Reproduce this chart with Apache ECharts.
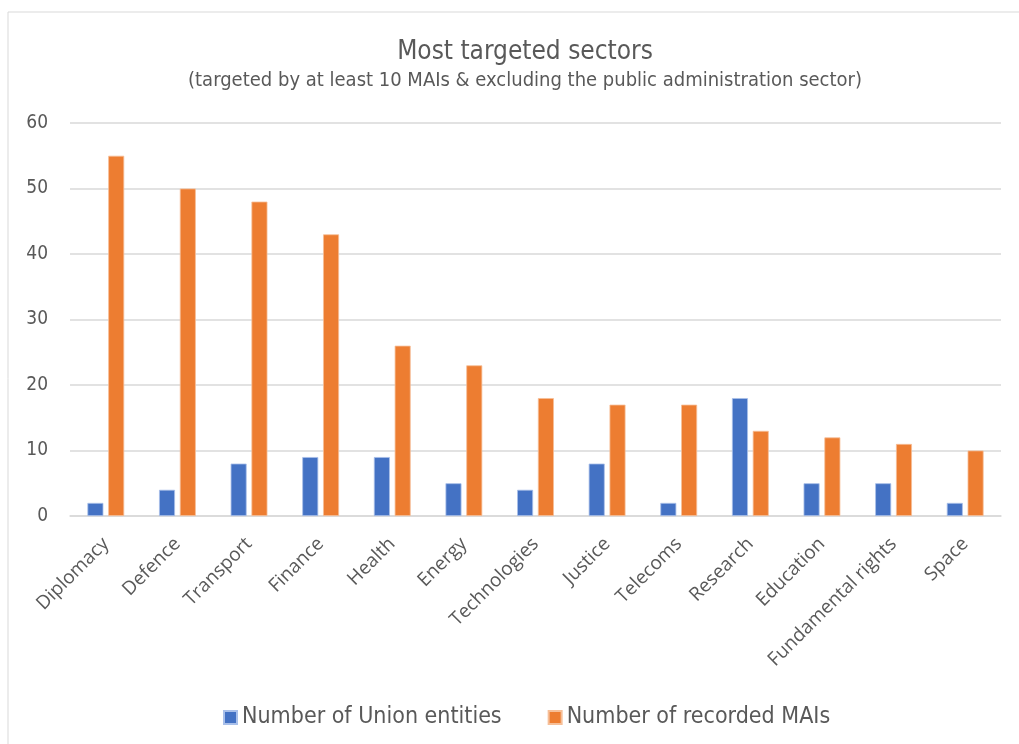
<!DOCTYPE html>
<html><head><meta charset="utf-8">
<script src="https://cdn.jsdelivr.net/npm/echarts@6/dist/echarts.min.js"></script>
<style>html,body{margin:0;padding:0;background:#fff}#c{width:1019px;height:744px}</style>
</head><body><div id="c"></div>
<script>
const categories = ["Diplomacy","Defence","Transport","Finance","Health","Energy","Technologies","Justice","Telecoms","Research","Education","Fundamental rights","Space"];
const unionEntities = [2,4,8,9,9,5,4,8,2,18,5,5,2];
const recordedMAIs = [55,50,48,43,26,23,18,17,17,13,12,11,10];
const yTicks = [0,10,20,30,40,50,60];

const narrow = '"Liberation Sans Narrow","DejaVu Sans Condensed","Roboto",sans-serif';
const chart = echarts.init(document.getElementById('c'));
chart.setOption({
  animation: false,
  graphic: [{type:'rect', shape:{x:8,y:12,width:1030,height:760}, style:{fill:'none', stroke:'#d9d9d9', lineWidth:1}, silent:true}],
  title: {
    text: 'Most targeted sectors',
    subtext: '(targeted by at least 10 MAIs & excluding the public administration sector)',
    left: 520, textAlign: 'center', top: 34, itemGap: 6,
    textStyle: {fontFamily: narrow, fontSize: 26, fontWeight: 'normal', color: '#595959'},
    subtextStyle: {fontFamily: narrow, fontSize: 20, color: '#595959'}
  },
  legend: {
    bottom: 10, left: 218, itemWidth: 13, itemHeight: 13, itemGap: 46,
    icon: 'rect',
    textStyle: {fontFamily: narrow, fontSize: 23, color: '#595959'},
    data: ['Number of Union entities','Number of recorded MAIs']
  },
  grid: {left: 70, right: 18, top: 123, bottom: 228, containLabel: false},
  xAxis: {
    type: 'category', data: categories,
    axisLine: {lineStyle: {color: '#d9d9d9', width: 1.5}},
    axisTick: {show: false},
    axisLabel: {rotate: 45, interval: 0, margin: 25, fontFamily: '"Open Sans",sans-serif', fontSize: 19, color: '#595959'}
  },
  yAxis: {
    type: 'value', min: 0, max: 60, interval: 10,
    axisLine: {show: false}, axisTick: {show: false},
    splitLine: {lineStyle: {color: '#d9d9d9', width: 1.5}},
    axisLabel: {margin: 22, fontFamily: narrow, fontSize: 19, color: '#595959',
      formatter: v => yTicks.includes(v) ? String(v) : ''}
  },
  series: [
    {name: 'Number of Union entities', type: 'bar', data: unionEntities, barWidth: 16, barGap: '30%',
     itemStyle: {color: '#4472c4', borderColor: '#a9c0ea', borderWidth: 0.8}},
    {name: 'Number of recorded MAIs', type: 'bar', data: recordedMAIs, barWidth: 16,
     itemStyle: {color: '#ed7d31', borderColor: '#f6bf98', borderWidth: 0.8}}
  ]
});
</script></body></html>
